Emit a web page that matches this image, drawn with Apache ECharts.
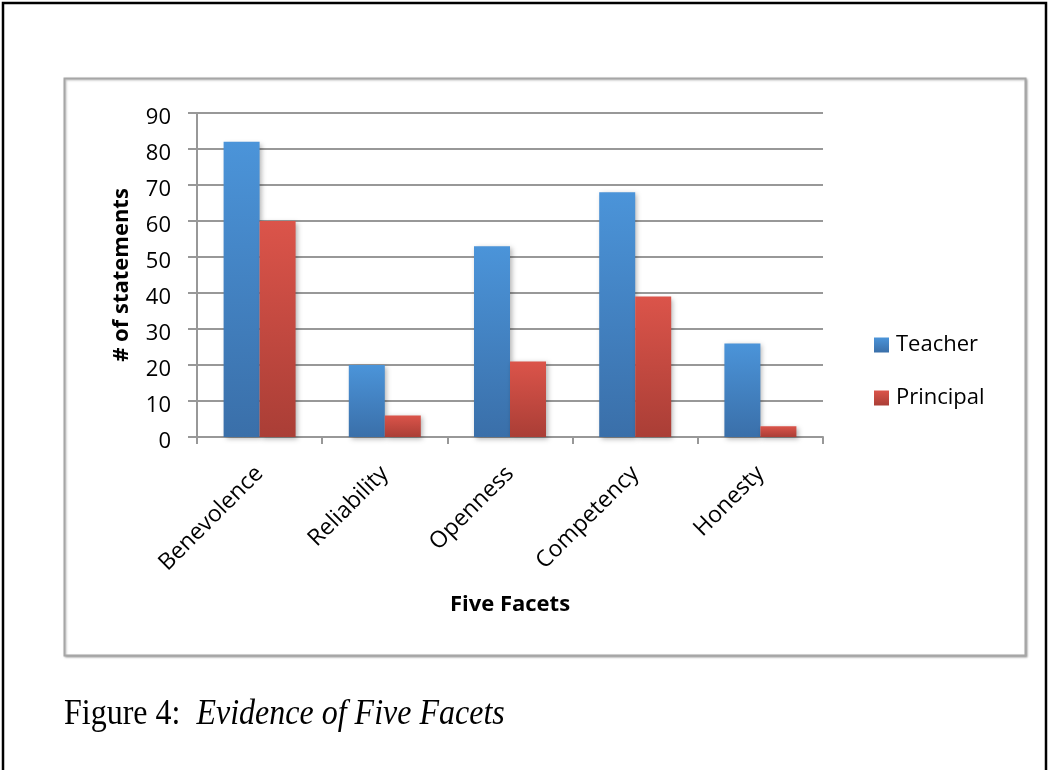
<!DOCTYPE html>
<html>
<head>
<meta charset="utf-8">
<style>
  html, body { margin: 0; padding: 0; background: #fff; }
  #chart { width: 1051px; height: 770px; }
</style>
<script src="https://cdn.jsdelivr.net/npm/echarts@6/dist/echarts.min.js"></script>
</head>
<body>
<div id="chart"></div>
<script>
// Statements coded for each trust facet, by role
const facets = ['Benevolence', 'Reliability', 'Openness', 'Competency', 'Honesty'];
const teacher = [82, 20, 53, 68, 26];
const principal = [60, 6, 21, 39, 3];
const yTicks = { min: 0, max: 90, step: 10 };

const uiFont = '"Open Sans", "Noto Sans", sans-serif';
const serifFont = '"Liberation Serif", "Times New Roman", serif';
const gridGray = '#989898';

function vGrad(top, bottom) {
  return new echarts.graphic.LinearGradient(0, 0, 0, 1, [
    { offset: 0, color: top },
    { offset: 1, color: bottom }
  ]);
}

const blueFill = vGrad('#4b94d9', '#3a6fa9');
const redFill = vGrad('#db544a', '#aa3e36');

const barShadow = {
  shadowBlur: 5,
  shadowColor: 'rgba(0,0,0,0.3)',
  shadowOffsetX: 2,
  shadowOffsetY: 2
};

const chart = echarts.init(document.getElementById('chart'));
chart.setOption({
  animation: false,
  backgroundColor: '#fff',
  textStyle: { fontFamily: uiFont, color: '#000' },
  grid: { left: 197, right: 228, top: 113, bottom: 333 },
  legend: {
    orient: 'vertical',
    left: 869,
    top: 329,
    itemWidth: 15,
    itemHeight: 15,
    itemGap: 31,
    icon: 'rect',
    textStyle: { fontSize: 22, fontFamily: uiFont, color: '#000', padding: [0, 0, 0, 2] },
    data: [
      { name: 'Teacher', itemStyle: { color: blueFill } },
      { name: 'Principal', itemStyle: { color: redFill } }
    ]
  },
  xAxis: {
    type: 'category',
    data: facets,
    name: 'Five Facets',
    nameLocation: 'middle',
    nameGap: 157,
    nameTextStyle: { fontSize: 22, fontWeight: 'bold', fontFamily: uiFont, color: '#000' },
    axisLine: { lineStyle: { color: gridGray, width: 2 } },
    axisTick: { show: true, length: 7, lineStyle: { color: gridGray, width: 2 } },
    axisLabel: { rotate: 45, fontSize: 23, margin: 33, color: '#000', fontFamily: uiFont }
  },
  yAxis: {
    type: 'value',
    min: yTicks.min,
    max: yTicks.max,
    interval: yTicks.step,
    name: '# of statements',
    nameLocation: 'middle',
    nameGap: 64,
    nameTextStyle: { fontSize: 22, fontWeight: 'bold', fontFamily: uiFont, color: '#000' },
    axisLine: { show: true, lineStyle: { color: gridGray, width: 2 } },
    axisTick: { show: true, length: 9, lineStyle: { color: gridGray, width: 2 } },
    axisLabel: {
      fontSize: 22,
      margin: 26,
      color: '#000',
      fontFamily: uiFont,
      verticalAlign: 'top',
      lineHeight: 9
    },
    splitLine: { lineStyle: { color: gridGray, width: 2 } }
  },
  series: [
    {
      name: 'Teacher',
      type: 'bar',
      data: teacher,
      barWidth: 36,
      barGap: '0%',
      itemStyle: Object.assign({ color: blueFill }, barShadow)
    },
    {
      name: 'Principal',
      type: 'bar',
      data: principal,
      barWidth: 36,
      barGap: '0%',
      itemStyle: Object.assign({ color: redFill }, barShadow)
    }
  ],
  graphic: [
    // page frame
    {
      type: 'polyline',
      z: -10,
      silent: true,
      shape: { points: [[3, 790], [3, 3], [1046, 3], [1046, 790]] },
      style: { stroke: '#000', lineWidth: 2.5, fill: null }
    },
    // chart area border
    {
      type: 'rect',
      z: -10,
      silent: true,
      shape: { x: 64.5, y: 78.5, width: 961, height: 577 },
      style: {
        fill: '#fff',
        stroke: '#a6a6a6',
        lineWidth: 2,
        shadowBlur: 2,
        shadowColor: 'rgba(0,0,0,0.25)',
        shadowOffsetX: 1,
        shadowOffsetY: 1
      }
    },
    // figure caption (tall serif lettering)
    {
      type: 'text',
      x: 64,
      y: 697.5,
      scaleY: 1.1,
      silent: true,
      style: {
        text: '{n|Figure 4:  }{i|Evidence of Five Facets}',
        verticalAlign: 'top',
        rich: {
          n: { fontFamily: serifFont, fontSize: 32, fill: '#000' },
          i: { fontFamily: serifFont, fontSize: 32, fontStyle: 'italic', fill: '#000' }
        }
      }
    }
  ]
});
</script>
</body>
</html>
